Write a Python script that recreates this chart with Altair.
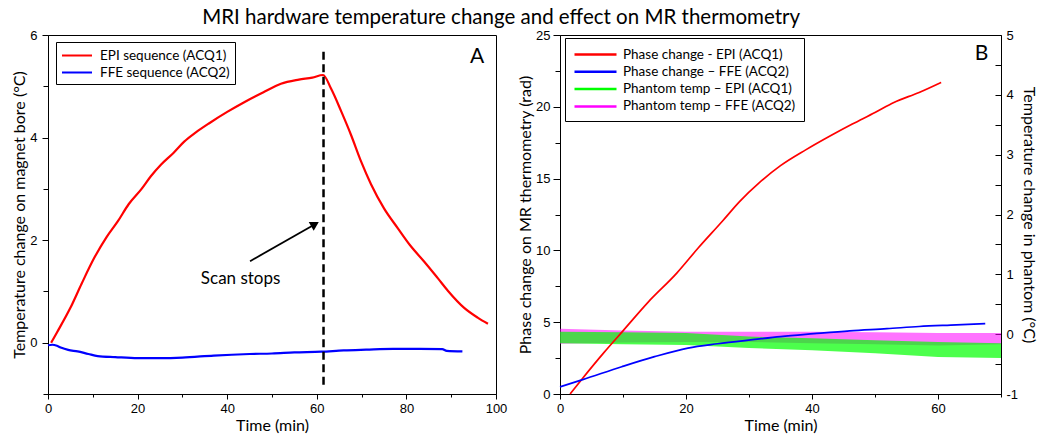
import altair as alt
import pandas as pd

TITLE = "MRI hardware temperature change and effect on MR thermometry"
TXT = "Lato"
NUM = "Liberation Sans"

# ---------------- Panel A data ----------------
A_EPI_T = [0.7, 2, 5, 7.5, 10.3, 13, 15.6, 18, 20.8, 23, 25.2, 28, 30.4, 33, 36, 40, 44, 48,
           52, 56, 59, 61.4, 63.2, 65.5, 67.6, 69.9, 72.1, 75, 78.1, 81, 83.9, 87, 89.3, 92.9,
           95.9, 98.2]
A_EPI_V = [0, 0.2, 0.68, 1.15, 1.65, 2.05, 2.37, 2.7, 2.99, 3.25, 3.47, 3.7, 3.92, 4.1, 4.28,
           4.5, 4.7, 4.88, 5.05, 5.13, 5.17, 5.22, 4.95, 4.5, 4.06, 3.53, 3.09, 2.62, 2.23, 1.88,
           1.59, 1.26, 1.01, 0.68, 0.49, 0.37]
A_FFE_T = [0, 1, 2, 3, 4.5, 6.6, 9, 11.1, 15, 20, 25, 30, 37, 45, 50, 55, 61, 66, 71, 77,
           83, 88, 89, 92.5]
A_FFE_V = [-0.05, -0.04, -0.06, -0.1, -0.14, -0.17, -0.22, -0.26, -0.28, -0.30, -0.30, -0.29,
           -0.25, -0.22, -0.21, -0.19, -0.175, -0.15, -0.135, -0.12, -0.12, -0.125, -0.16, -0.17]
A_LABELS = ["EPI sequence (ACQ1)", "FFE sequence (ACQ2)"]
A_COLORS = ["#ff0000", "#0000ff"]
SCAN_STOP_T = [61.5]
SCAN_STOP_LO = [-0.82]
SCAN_STOP_HI = [5.69]
ARROW_T = [45.1, 59.6]
ARROW_V = [1.59, 2.31]
SCAN_TEXT = ["Scan stops"]
SCAN_TEXT_T = [43]
SCAN_TEXT_V = [1.24]
A_TAG_T, A_TAG_V = [95.8], [5.57]

# ---------------- Panel B data ----------------
B_EPI_T = [1.6, 3.6, 7, 10, 14, 18.5, 22, 25.8, 28.5, 31.6, 35, 39, 43, 46.4, 50, 53, 57, 60.5]
B_EPI_V = [0, 1.1, 2.9, 4.4, 6.4, 8.4, 10.2, 12.05, 13.4, 14.7, 15.9, 17.0, 18.0, 18.8, 19.6,
           20.3, 21.0, 21.7]
B_FFE_T = [0, 3.6, 9.8, 15, 20.3, 25, 30.9, 35, 40.3, 46, 51.9, 57, 62, 67.5]
B_FFE_V = [0.5, 1.0, 1.9, 2.6, 3.2, 3.5, 3.8, 4.0, 4.2, 4.4, 4.55, 4.7, 4.8, 4.9]
B_GREEN_T = [0, 10, 20, 30, 40, 50, 60, 70]
B_GREEN_LO = [-0.15, -0.17, -0.18, -0.23, -0.27, -0.32, -0.38, -0.40]
B_GREEN_HI = [0.04, 0.03, 0.02, -0.04, -0.07, -0.10, -0.13, -0.15]
B_MAG_T = [0, 10, 20, 30, 40, 50, 60, 70]
B_MAG_LO = [-0.16, -0.14, -0.13, -0.13, -0.15, -0.17, -0.19, -0.17]
B_MAG_HI = [0.09, 0.06, 0.04, 0.04, 0.04, 0.03, 0.02, 0.02]
B_LABELS = ["Phase change - EPI (ACQ1)", "Phase change \u2013 FFE (ACQ2)",
            "Phantom temp \u2013 EPI (ACQ1)", "Phantom temp \u2013 FFE (ACQ2)"]
B_COLORS = ["#ff0000", "#0000ff", "#00ff00", "#ff00ff"]
B_TAG_T, B_TAG_V = [66.9], [23.7]

# ---------------- Panel A ----------------
A_W, A_H = 448, 359
B_W, B_H = 441, 359

a_lines = pd.DataFrame({
    "t": A_EPI_T + A_FFE_T,
    "v": A_EPI_V + A_FFE_V,
    "s": [A_LABELS[0]] * len(A_EPI_T) + [A_LABELS[1]] * len(A_FFE_T),
})

xA = alt.X("t:Q", scale=alt.Scale(domain=[0, 100], nice=False),
           axis=alt.Axis(values=list(range(0, 101, 10)),
                         labelExpr="datum.value % 20 === 0 ? datum.label : ''",
                         tickSize={"condition": {"test": "datum.value % 20 === 0", "value": 5}, "value": 3},
                         labelPadding=3, title="Time (min)", titlePadding=2))
yA = alt.Y("v:Q", scale=alt.Scale(domain=[-1, 6], nice=False),
           axis=alt.Axis(values=list(range(-1, 7)),
                         labelExpr="datum.value % 2 === 0 ? datum.label : ''",
                         tickSize={"condition": {"test": "datum.value % 2 === 0", "value": 6}, "value": 5},
                         labelPadding=5, title="Temperature change on magnet bore (\u00b0C)",
                         titlePadding=2))

a_line_layer = alt.Chart(a_lines).mark_line(strokeWidth=2.2, interpolate="monotone").encode(
    x=xA, y=yA,
    color=alt.Color("s:N", sort=A_LABELS,
                    scale=alt.Scale(domain=A_LABELS, range=A_COLORS),
                    legend=alt.Legend(title=None, orient="none", legendX=8, legendY=7,
                                      symbolType="M-1,0L3,0", symbolSize=225, symbolStrokeWidth=2,
                                      labelFont=TXT, labelFontSize=13.5, strokeColor="black",
                                      fillColor="white", padding=5, rowPadding=2,
                                      labelOffset=22, labelLimit=400)),
)

dash_df = pd.DataFrame({"t": SCAN_STOP_T, "v": SCAN_STOP_LO, "v2": SCAN_STOP_HI})
a_dash = alt.Chart(dash_df).mark_rule(strokeDash=[8, 4.5], strokeWidth=2.5, color="black").encode(
    x=xA, y=yA, y2="v2:Q")

arrow_df = pd.DataFrame({"t": ARROW_T, "v": ARROW_V})
a_arrow = alt.Chart(arrow_df).mark_line(color="black", strokeWidth=1.8).encode(x=xA, y=yA)
a_head = alt.Chart(arrow_df.tail(1)).mark_point(shape="triangle-right", filled=True, size=100,
                                                angle=330.5, color="black", opacity=1).encode(x=xA, y=yA)

text_df = pd.DataFrame({"t": SCAN_TEXT_T, "v": SCAN_TEXT_V, "txt": SCAN_TEXT})
a_text = alt.Chart(text_df).mark_text(font=TXT, fontSize=17, color="black", align="center",
                                      baseline="middle").encode(x=xA, y=yA, text="txt:N")
tagA_df = pd.DataFrame({"t": A_TAG_T, "v": A_TAG_V, "txt": ["A"]})
a_tag = alt.Chart(tagA_df).mark_text(font=TXT, fontSize=21, color="black", align="center",
                                     baseline="middle").encode(x=xA, y=yA, text="txt:N")

panel_a = alt.layer(a_line_layer, a_dash, a_arrow, a_head, a_text, a_tag).properties(
    width=A_W, height=A_H)

# ---------------- Panel B ----------------
b_lines = pd.DataFrame({
    "t": B_EPI_T + B_FFE_T,
    "v": B_EPI_V + B_FFE_V,
    "s": [B_LABELS[0]] * len(B_EPI_T) + [B_LABELS[1]] * len(B_FFE_T),
})

xB = alt.X("t:Q", scale=alt.Scale(domain=[0, 70], nice=False),
           axis=alt.Axis(values=list(range(0, 71, 10)),
                         labelExpr="datum.value % 20 === 0 ? datum.label : ''",
                         tickSize={"condition": {"test": "datum.value % 20 === 0", "value": 5}, "value": 3},
                         labelPadding=3, title="Time (min)", titlePadding=2))
left_vals = [i * 2.5 for i in range(11)]
yB = alt.Y("v:Q", scale=alt.Scale(domain=[0, 25], nice=False),
           axis=alt.Axis(orient="left", values=left_vals,
                         labelExpr="datum.value % 5 === 0 ? datum.label : ''",
                         tickSize={"condition": {"test": "datum.value % 5 === 0", "value": 7}, "value": 5},
                         labelPadding=3, title="Phase change on MR thermometry (rad)",
                         titlePadding=2))
right_vals = [-1 + i * 0.5 for i in range(13)]
yR = alt.Y("lo:Q", scale=alt.Scale(domain=[-1, 5], nice=False),
           axis=alt.Axis(orient="right", offset=-6, domain=False, values=right_vals,
                         labelExpr="datum.value % 1 === 0 ? ('' + datum.value) : ''",
                         tickSize=6, labelPadding=5,
                         title="Temperature change in phantom (\u00b0C)", titlePadding=3))
yR_none = alt.Y("lo:Q", scale=alt.Scale(domain=[-1, 5], nice=False), axis=None)

mag_df = pd.DataFrame({"t": B_MAG_T, "lo": B_MAG_LO, "hi": B_MAG_HI})
green_df = pd.DataFrame({"t": B_GREEN_T, "lo": B_GREEN_LO, "hi": B_GREEN_HI})

b_mag = alt.Chart(mag_df).mark_area(color=B_COLORS[3], opacity=0.55).encode(
    x=xB, y=yR, y2="hi:Q")
b_green = alt.Chart(green_df).mark_area(color=B_COLORS[2], opacity=0.7).encode(
    x=xB, y=yR_none, y2="hi:Q")

b_line_layer = alt.Chart(b_lines).mark_line(strokeWidth=1.7, interpolate="monotone").encode(
    x=xB, y=yB,
    color=alt.Color("s:N", sort=B_LABELS,
                    scale=alt.Scale(domain=B_LABELS, range=B_COLORS),
                    legend=alt.Legend(title=None, orient="none", legendX=5, legendY=3,
                                      symbolType="M-1,0L5,0", symbolSize=196, symbolStrokeWidth=2.5,
                                      labelFont=TXT, labelFontSize=13.5, strokeColor="black",
                                      fillColor="white", padding=8, rowPadding=2.3,
                                      labelOffset=33, labelLimit=400)),
)

tagB_df = pd.DataFrame({"t": B_TAG_T, "v": B_TAG_V, "txt": ["B"]})
b_tag = alt.Chart(tagB_df).mark_text(font=TXT, fontSize=21, color="black", align="center",
                                     baseline="middle").encode(
    x=xB, y=alt.Y("v:Q", scale=alt.Scale(domain=[0, 25], nice=False), axis=None), text="txt:N")

panel_b = alt.layer(b_mag, b_green, b_line_layer, b_tag).resolve_scale(
    y="independent").properties(width=B_W, height=B_H)

chart = alt.hconcat(panel_a, panel_b, spacing=9).resolve_scale(color="independent").properties(
    title=alt.TitleParams(TITLE, font=TXT, fontSize=20.5, fontWeight="normal", anchor="middle",
                          offset=0, dx=-23, color="black"),
    padding={"left": 3, "top": 0, "right": 2, "bottom": 0},
).configure_view(stroke="black", strokeWidth=1).configure_axis(
    domainColor="black", tickColor="black", labelColor="black", titleColor="black",
    labelFont=NUM, labelFontSize=13, titleFont=TXT, titleFontSize=16, titleFontWeight="normal",
    grid=False, labelOverlap=False, labelBound=False, labelFlush=False, tickWidth=1, domainWidth=1,
)

chart.save("out.html", embed_options={"renderer": "svg", "actions": False})
